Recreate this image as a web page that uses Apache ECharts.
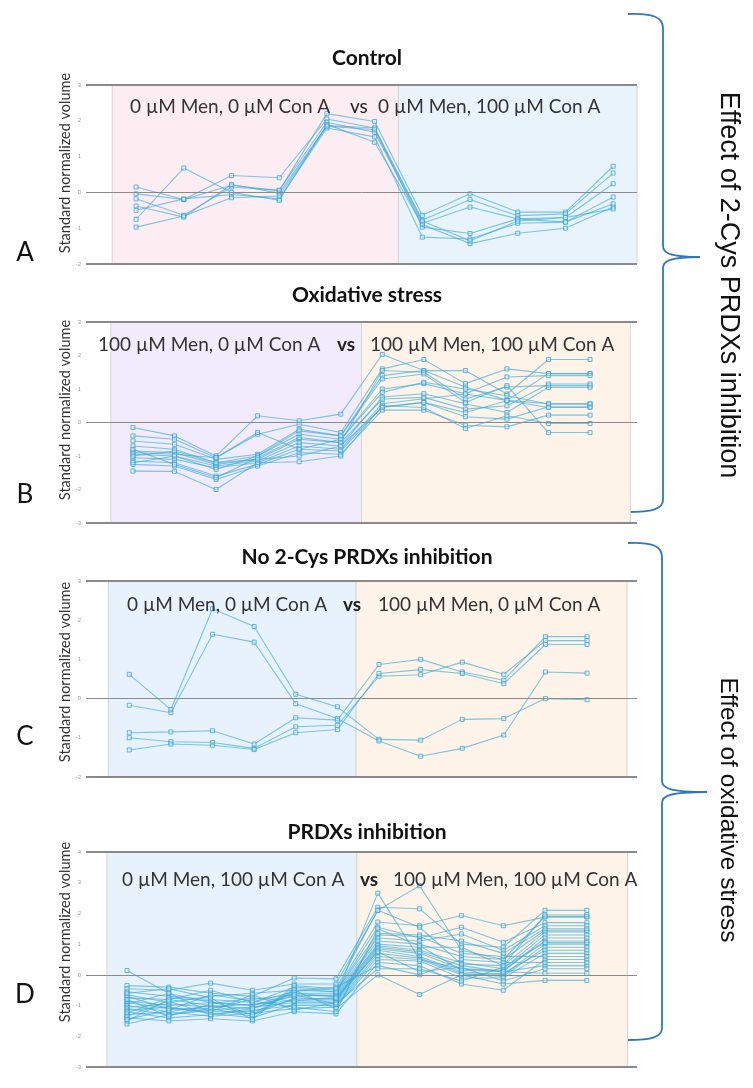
<!DOCTYPE html>
<html>
<head>
<meta charset="utf-8">
<title></title>
<style>
  body{margin:0;background:#fff;}
  #main{width:753px;height:1088px;}
</style>
<script src="https://cdn.jsdelivr.net/npm/echarts@6/dist/echarts.min.js"></script>
</head>
<body>
<div id="main"></div>
<script>
// A - Control: 0 uM Men, 0 uM Con A (6 pts) vs 0 uM Men, 100 uM Con A (5 pts)
var linesA = [
  [0.15, -0.20, 0.20, 0.05, 2.20, 1.98, -0.64, -0.04, -0.55, -0.55, 0.73],
  [-0.04, -0.20, 0.47, 0.41, 2.05, 1.80, -0.78, -0.20, -0.65, -0.60, 0.54],
  [-0.18, -0.64, 0.15, 0.06, 1.96, 1.68, -0.86, -0.41, -0.74, -0.70, 0.24],
  [-0.38, -0.69, 0.22, -0.02, 1.87, 1.80, -0.97, -1.15, -0.74, -0.83, -0.13],
  [-0.50, -0.18, -0.06, -0.18, 1.80, 1.55, -1.25, -1.30, -0.86, -0.83, -0.32],
  [-0.75, 0.68, 0.00, -0.22, 1.90, 1.40, -0.90, -1.43, -1.14, -1.00, -0.41],
  [-0.97, -0.66, -0.15, -0.10, 1.85, 1.75, -0.80, -1.35, -0.80, -0.70, -0.46]
];
// B - Oxidative stress
var linesB = [
  [-0.15, -0.40, -1.00, 0.20, 0.05, 0.25, 2.03, 1.55, 1.55, 0.85, 1.88, 1.88],
  [-0.40, -0.50, -1.05, -0.35, -0.05, -0.30, 1.60, 1.88, 1.16, 1.60, 1.46, 1.46],
  [-0.55, -0.65, -1.10, -0.95, -0.20, -0.40, 1.40, 1.55, 1.06, 0.66, 1.46, 1.46],
  [-0.70, -0.80, -1.20, -1.00, -0.35, -0.50, 1.00, 1.16, 0.86, 1.36, 1.40, 1.40],
  [-0.85, -0.90, -1.25, -1.10, -0.50, -0.60, 1.55, 1.50, 0.70, 1.06, 1.10, 1.10],
  [-0.95, -1.00, -1.30, -1.15, -0.60, -0.70, 0.76, 0.86, 0.56, 0.30, 1.05, 1.05],
  [-1.05, -1.10, -1.35, -1.20, -0.70, -0.80, 0.56, 0.71, 0.85, 0.66, 0.56, 0.56],
  [-1.15, -1.20, -1.60, -1.25, -0.80, -0.85, 0.47, 0.60, 0.17, 0.10, 0.47, 0.47],
  [-1.25, -1.30, -1.70, -1.30, -0.90, -0.95, 0.37, 0.37, -0.08, -0.13, 0.22, 0.22],
  [-1.45, -1.46, -2.00, -1.20, -1.17, -1.00, 0.50, 0.45, -0.18, 0.20, -0.03, -0.03],
  [-0.90, -0.95, -1.05, -0.30, -0.80, -0.50, 0.90, 1.20, 1.00, 0.80, 0.55, 0.55],
  [-1.20, -1.00, -1.40, -1.00, -0.25, -0.40, 1.30, 1.45, 0.60, 1.10, -0.30, -0.30],
  [-0.80, -1.25, -1.65, -1.05, -0.45, -0.60, 0.70, 0.75, 0.40, 0.50, 1.15, 1.15],
  [-1.00, -0.85, -1.20, -1.10, -1.00, -0.70, 0.45, 0.60, 0.30, 0.65, 0.45, 0.45]
];
// C - No 2-Cys PRDXs inhibition
var linesC = [
  [0.62, -0.28, 2.29, 1.84, 0.11, -0.21, -1.04, -1.06, -0.53, -0.51, 0.00, -0.03],
  [-0.17, -0.36, 1.64, 1.44, -0.13, -0.51, -1.08, -1.47, -1.27, -0.93, 0.68, 0.65],
  [-0.87, -0.85, -0.82, -1.16, -0.49, -0.55, 0.87, 1.00, 0.68, 0.47, 1.58, 1.58],
  [-1.00, -1.10, -1.12, -1.27, -0.72, -0.68, 0.57, 0.61, 0.93, 0.62, 1.48, 1.48],
  [-1.31, -1.16, -1.19, -1.30, -0.87, -0.79, 0.64, 0.74, 0.64, 0.38, 1.38, 1.38]
];
// D - PRDXs inhibition
var linesD = [
  [0.14, -0.60, -0.90, -1.00, -0.60, -0.70, 2.66, 0.50, 0.20, 0.10, 0.30, 0.30],
  [-0.35, -0.40, -0.60, -0.70, -0.10, -0.13, 2.20, 2.15, 1.00, 0.90, 2.10, 2.10],
  [-0.45, -0.50, -0.27, -0.50, -0.30, -0.30, 2.10, 2.90, 0.80, 0.50, 1.90, 1.90],
  [-0.55, -0.70, -0.80, -0.90, -0.40, -0.50, 1.72, 1.60, 1.93, 1.60, 1.88, 1.88],
  [-0.65, -0.90, -0.70, -0.60, -0.50, -0.55, 1.55, 1.20, 1.55, 1.06, 1.70, 1.70],
  [-0.75, -0.80, -1.00, -1.10, -0.60, -0.60, 1.20, 1.10, 1.33, 0.80, 1.60, 1.60],
  [-0.85, -1.00, -0.90, -1.00, -0.70, -0.65, 1.10, 1.00, 0.60, 0.50, 1.45, 1.45],
  [-0.90, -1.10, -1.10, -0.80, -0.65, -0.70, 1.00, 0.90, 0.90, 0.30, 1.40, 1.40],
  [-0.95, -0.60, -1.20, -1.20, -0.80, -0.75, 0.95, 0.80, 0.40, 0.20, 1.30, 1.30],
  [-1.00, -1.20, -1.00, -1.30, -0.75, -0.80, 0.90, 0.75, 0.30, 0.10, 1.20, 1.20],
  [-1.05, -0.95, -1.05, -0.95, -0.85, -0.85, 0.85, 0.70, 0.20, 0.15, 1.10, 1.10],
  [-1.10, -1.30, -1.15, -1.05, -0.90, -0.90, 0.80, 0.60, 0.10, 0.00, 1.00, 1.00],
  [-1.15, -1.05, -1.25, -1.40, -0.95, -0.95, 0.70, 0.55, 0.05, -0.05, 0.90, 0.90],
  [-1.20, -1.40, -1.30, -1.15, -1.00, -1.00, 0.60, 0.50, 0.00, 0.05, 0.80, 0.80],
  [-1.30, -1.20, -1.35, -1.25, -1.10, -1.05, 0.50, 0.45, -0.10, -0.10, 0.70, 0.70],
  [-1.40, -1.50, -1.43, -1.50, -1.20, -1.27, 0.40, 0.30, -0.30, -0.50, 0.50, 0.50],
  [-1.60, -1.30, -1.10, -1.35, -0.50, -1.10, 0.00, -0.64, 0.00, -0.30, -0.18, -0.18],
  [-1.50, -0.80, -0.50, -0.90, -0.55, -0.40, 0.30, 0.00, 0.50, 0.40, 0.40, 0.40],
  [-0.70, -1.10, -1.20, -0.65, -1.15, -0.90, 1.30, 1.25, 0.70, 0.60, 0.60, 0.60],
  [-1.25, -0.75, -0.85, -1.30, -0.45, -0.55, 1.35, 1.30, 1.10, 0.70, 1.50, 1.50],
  [-0.80, -1.35, -0.95, -0.75, -0.85, -0.75, 0.75, 0.10, 0.25, -0.20, 0.20, 0.20],
  [-1.35, -0.85, -1.30, -1.10, -0.65, -0.95, 0.20, 0.20, -0.20, 0.25, 1.05, 1.05],
  [-0.60, -0.45, -0.75, -1.45, -0.35, -0.45, 2.10, 1.55, 0.35, 0.30, 1.95, 1.95],
  [-1.45, -1.15, -0.65, -0.85, -1.05, -1.20, 1.50, 0.95, 0.15, 0.10, 0.05, 0.05]
];

var titles = ['Control', 'Oxidative stress', 'No 2-Cys PRDXs inhibition', 'PRDXs inhibition'];
var leftGroups = ['0 µM Men, 0 µM Con A', '100 µM Men, 0 µM Con A', '0 µM Men, 0 µM Con A', '0 µM Men, 100 µM Con A'];
var rightGroups = ['0 µM Men, 100 µM Con A', '100 µM Men, 100 µM Con A', '100 µM Men, 0 µM Con A', '100 µM Men, 100 µM Con A'];
var letters = ['A', 'B', 'C', 'D'];

// layout of the four panels
var panels = [
  {lines: linesA, top: 85, height: 179, ymin: -2, ymax: 3, xmin: -1.05, xmax: 10.5, split: 5.5, bandL: -0.5, bandR: 10.5,
   colL: '#fcedf3', colR: '#e9f3fc', titleY: 58, subY: 107, subL: 130, vsX: 350, subR: 378, vsBold: false, letterY: 253, labelY: 163},
  {lines: linesB, top: 322, height: 201, ymin: -3, ymax: 3, xmin: -1.13, xmax: 12.13, split: 5.5, bandL: -0.53, bandR: 11.97,
   colL: '#f1ebfb', colR: '#fdf3e8', titleY: 295, subY: 345, subL: 98, vsX: 337, subR: 370, vsBold: true, letterY: 495, labelY: 410},
  {lines: linesC, top: 581, height: 196, ymin: -2, ymax: 3, xmin: -1.04, xmax: 12.2, split: 5.45, bandL: -0.5, bandR: 11.96,
   colL: '#e8f2fc', colR: '#fdf3e8', titleY: 557, subY: 605, subL: 127, vsX: 343, subR: 378, vsBold: true, letterY: 737, labelY: 672},
  {lines: linesD, top: 852, height: 215, ymin: -3, ymax: 4, xmin: -0.98, xmax: 12.2, split: 5.5, bandL: -0.48, bandR: 11.97,
   colL: '#e8f2fc', colR: '#fdf3e8', titleY: 832, subY: 880, subL: 122, vsX: 360, subR: 393, vsBold: true, letterY: 995, labelY: 932}
];

var lineColor = 'rgba(60,170,215,0.65)';
var grids = [], xAxes = [], yAxes = [], series = [], graphics = [];

panels.forEach(function (p, k) {
  grids.push({left: 86, right: 116, top: p.top, height: p.height});
  xAxes.push({type: 'value', gridIndex: k, min: p.xmin, max: p.xmax, show: false});
  yAxes.push({
    type: 'value', gridIndex: k, min: p.ymin, max: p.ymax, interval: 1,
    axisLine: {show: true, lineStyle: {color: '#8c8c8c', width: 1}},
    axisTick: {show: true, length: 3, lineStyle: {color: '#8c8c8c'}},
    minorTick: {show: true, splitNumber: 5, length: 2, lineStyle: {color: '#9a9a9a'}},
    axisLabel: {fontSize: 6, color: '#999', margin: 5},
    splitLine: {show: false}
  });
  p.lines.forEach(function (arr, j) {
    var s = {
      type: 'line', xAxisIndex: k, yAxisIndex: k, silent: true,
      data: arr.map(function (v, i) { return [i, v]; }),
      symbol: 'rect', symbolSize: 4,
      lineStyle: {width: 1.1, color: lineColor},
      itemStyle: {color: 'rgba(255,255,255,0.35)', borderColor: 'rgba(60,165,210,0.8)', borderWidth: 1}
    };
    if (j === 0) {
      s.markArea = {
        silent: true,
        itemStyle: {borderColor: '#d6d6d6', borderWidth: 1},
        data: [
          [{xAxis: p.bandL, itemStyle: {color: p.colL}}, {xAxis: p.split}],
          [{xAxis: p.split, itemStyle: {color: p.colR}}, {xAxis: p.bandR}]
        ]
      };
      s.markLine = {
        silent: true, symbol: 'none', label: {show: false},
        data: [
          {yAxis: 0, lineStyle: {color: '#8a8a8a', width: 1, type: 'solid'}},
          {yAxis: p.ymax, lineStyle: {color: '#8a8a8a', width: 2, type: 'solid'}},
          {yAxis: p.ymin, lineStyle: {color: '#8a8a8a', width: 2, type: 'solid'}}
        ]
      };
    }
    series.push(s);
  });

  graphics.push({type: 'text', z: 100, x: 367, y: p.titleY, style: {text: titles[k], font: 'bold 21px Lato', fill: '#111', textAlign: 'center', textVerticalAlign: 'middle'}});
  graphics.push({type: 'text', z: 100, x: p.subL, y: p.subY, style: {text: leftGroups[k], font: '19px Lato', fill: '#333', textVerticalAlign: 'middle'}});
  graphics.push({type: 'text', z: 100, x: p.vsX, y: p.subY, style: {text: 'vs', font: (p.vsBold ? 'bold ' : '') + '19px Lato', fill: '#222', textVerticalAlign: 'middle'}});
  graphics.push({type: 'text', z: 100, x: p.subR, y: p.subY, style: {text: rightGroups[k], font: '19px Lato', fill: '#333', textVerticalAlign: 'middle'}});
  graphics.push({type: 'text', z: 100, x: 25, y: p.letterY, style: {text: letters[k], font: '26px Lato', fill: '#111', textAlign: 'center', textVerticalAlign: 'middle'}});
  graphics.push({type: 'text', z: 100, x: 65, y: p.labelY, rotation: Math.PI / 2,
    style: {text: 'Standard normalized volume', font: '14.5px Lato', fill: '#333', textAlign: 'center', textVerticalAlign: 'middle'}});
});

// right-hand curly braces
function brace(x, top, mid, bottom, tipX, endX) {
  var st = {stroke: '#2f78c0', lineWidth: 1.8, fill: 'none'};
  return [
    {type: 'bezierCurve', shape: {x1: endX, y1: top, cpx1: endX + 24, cpy1: top - 1, cpx2: x, cpy2: top + 3, x2: x, y2: top + 14}, style: st},
    {type: 'line', shape: {x1: x, y1: top + 14, x2: x, y2: mid - 11}, style: st},
    {type: 'bezierCurve', shape: {x1: x, y1: mid - 11, cpx1: x, cpy1: mid - 4, cpx2: x + 7, cpy2: mid, x2: tipX, y2: mid}, style: st},
    {type: 'bezierCurve', shape: {x1: x, y1: mid + 11, cpx1: x, cpy1: mid + 4, cpx2: x + 7, cpy2: mid, x2: tipX, y2: mid}, style: st},
    {type: 'line', shape: {x1: x, y1: mid + 11, x2: x, y2: bottom - 12}, style: st},
    {type: 'bezierCurve', shape: {x1: x, y1: bottom - 12, cpx1: x, cpy1: bottom - 3, cpx2: endX + 24, cpy2: bottom, x2: endX, y2: bottom}, style: st}
  ];
}
graphics = graphics.concat(brace(663, 14, 257, 512, 700, 628));
graphics = graphics.concat(brace(662, 543, 792, 1040, 707, 628));
graphics.push({type: 'text', z: 100, x: 728, y: 285, rotation: -Math.PI / 2,
  style: {text: 'Effect of 2-Cys PRDXs inhibition', font: '27px "Liberation Sans"', fill: '#111', textAlign: 'center', textVerticalAlign: 'middle'}});
graphics.push({type: 'text', z: 100, x: 728, y: 810, rotation: -Math.PI / 2,
  style: {text: 'Effect of oxidative stress', font: '24.5px "Liberation Sans"', fill: '#111', textAlign: 'center', textVerticalAlign: 'middle'}});

var chart = echarts.init(document.getElementById('main'));
chart.setOption({
  animation: false,
  grid: grids,
  xAxis: xAxes,
  yAxis: yAxes,
  series: series,
  graphic: graphics
});
</script>
</body>
</html>
